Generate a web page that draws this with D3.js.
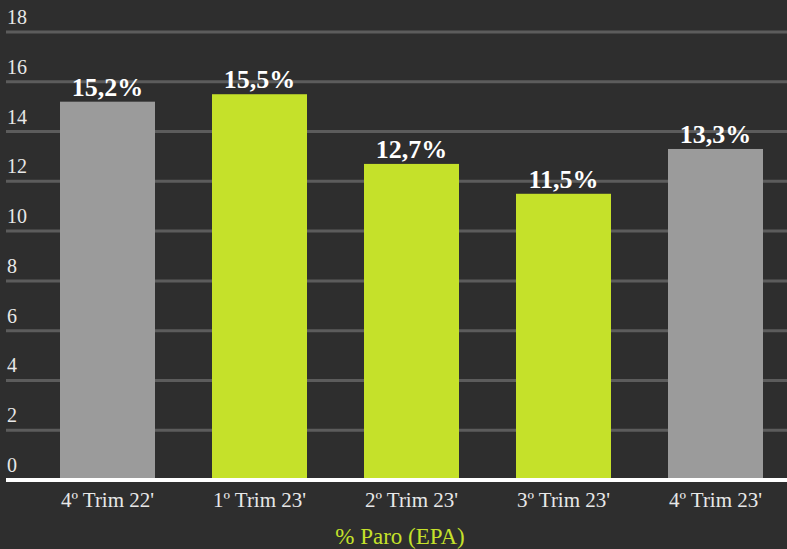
<!DOCTYPE html>
<html>
<head>
<meta charset="utf-8">
<script src="https://cdn.jsdelivr.net/npm/d3@7"></script>
<style>
  body { margin: 0; background: #2e2e2e; }
  svg { display: block; }
</style>
</head>
<body>
<div class="chart"></div>
<script>
// datos del gráfico
const categories = ["4º Trim 22'", "1º Trim 23'", "2º Trim 23'", "3º Trim 23'", "4º Trim 23'"]
const values = [15.2, 15.5, 12.7, 11.5, 13.3]
const highlight = [false, true, true, true, false]
const yTicks = [0, 2, 4, 6, 8, 10, 12, 14, 16, 18]
const title = "% Paro (EPA)"

const width = 787
const height = 549
const green = "#c5e12a"
const grey = "#9b9b9b"
const font = "'Liberation Serif', 'Times New Roman', serif"

const svg = d3.select('.chart')
  .append('svg')
  .attr('width', width)
  .attr('height', height)

svg.append('rect')
  .attr('width', width)
  .attr('height', height)
  .attr('fill', '#2e2e2e')

const x = d3.scaleBand()
  .domain(categories)
  .range([31.5, 791.5])
  .paddingInner(0.375)
  .paddingOuter(0.1875)

const y = d3.scaleLinear()
  .domain([0, 18])
  .range([480, 32])

// lineas de rejilla
svg.selectAll('.grid')
  .data(yTicks.filter(d => d > 0))
  .enter()
  .append('line')
  .attr('x1', 6)
  .attr('x2', width)
  .attr('y1', d => y(d))
  .attr('y2', d => y(d))
  .attr('stroke', '#5c5c5c')
  .attr('stroke-width', 3)

svg.selectAll('.ylab')
  .data(yTicks)
  .enter()
  .append('text')
  .attr('x', 7)
  .attr('y', d => y(d) - 8)
  .attr('fill', '#e8e8e8')
  .attr('font-family', font)
  .attr('font-size', 20)
  .text(d => d)

// barras
svg.selectAll('.bar')
  .data(values)
  .enter()
  .append('rect')
  .attr('x', (d, i) => x(categories[i]))
  .attr('y', d => y(d))
  .attr('width', x.bandwidth())
  .attr('height', d => y(0) - y(d))
  .attr('fill', (d, i) => highlight[i] ? green : grey)

svg.selectAll('.val')
  .data(values)
  .enter()
  .append('text')
  .attr('x', (d, i) => x(categories[i]) + x.bandwidth() / 2)
  .attr('y', d => y(d) - 6)
  .attr('text-anchor', 'middle')
  .attr('fill', '#ffffff')
  .attr('font-family', font)
  .attr('font-weight', 'bold')
  .attr('font-size', 26)
  .text(d => d.toFixed(1).replace('.', ',') + '%')

// eje x
svg.append('line')
  .attr('x1', 6)
  .attr('x2', width)
  .attr('y1', y(0))
  .attr('y2', y(0))
  .attr('stroke', '#ffffff')
  .attr('stroke-width', 4)

svg.selectAll('.xlab')
  .data(categories)
  .enter()
  .append('text')
  .attr('x', d => x(d) + x.bandwidth() / 2)
  .attr('y', 507)
  .attr('text-anchor', 'middle')
  .attr('fill', '#e8e8e8')
  .attr('font-family', font)
  .attr('font-size', 21)
  .text(d => d)

svg.append('text')
  .attr('x', 400)
  .attr('y', 544)
  .attr('text-anchor', 'middle')
  .attr('fill', green)
  .attr('font-family', font)
  .attr('font-size', 23)
  .text(title)
</script>
</body>
</html>
